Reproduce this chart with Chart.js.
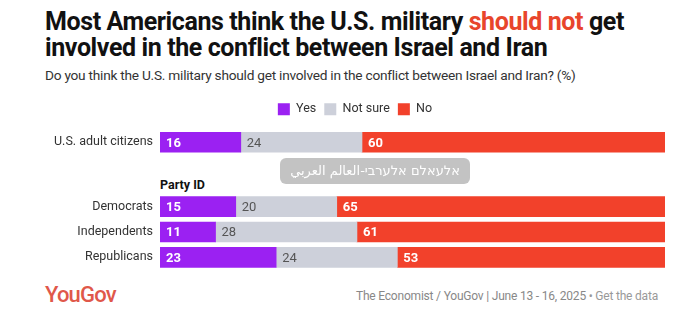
<!DOCTYPE html>
<html>
<head>
<meta charset="utf-8">
<script src="https://cdn.jsdelivr.net/npm/chart.js@4"></script>
<style>
  body { margin: 0; width: 700px; height: 321px; background: #fff; position: relative; overflow: hidden; font-family: Roboto, "Noto Sans", sans-serif; color: #222; }
  .abs { position: absolute; white-space: nowrap; }
  #title { left: 45px; top: 9px; font-size: 25px; font-weight: 700; line-height: 26px; color: #111; letter-spacing: -0.4px; }
  #title span { color: #e8452c; }
  #subtitle { left: 45px; top: 67px; font-size: 13.7px; color: #333; letter-spacing: -0.25px; }
  #party { left: 160px; top: 177px; font-size: 12.5px; font-weight: 700; color: #111; }
  #mark { left: 280px; top: 158px; width: 190px; height: 26px; border-radius: 6px; background: rgba(175,175,175,0.75); color: #fff; font-family: "DejaVu Sans", sans-serif; font-size: 13px; line-height: 26px; text-align: center; }
  #logo { left: 45px; top: 282px; font-size: 22px; font-weight: 500; color: #e0584a; letter-spacing: -0.8px; }
  #source { right: 42px; top: 289px; font-size: 12px; color: #888; letter-spacing: -0.2px; }
  #source span { color: #999; }
  canvas { position: absolute; left: 0; }
  #chart1 { top: 95px; }
  #chart2 { top: 194px; }
</style>
</head>
<body>
<div class="abs" id="title">Most Americans think the U.S. military <span>should not</span> get<br>involved in the conflict between Israel and Iran</div>
<div class="abs" id="subtitle">Do you think the U.S. military should get involved in the conflict between Israel and Iran? (%)</div>
<canvas id="chart1" width="700" height="64"></canvas>
<div class="abs" id="party">Party ID</div>
<canvas id="chart2" width="700" height="76"></canvas>
<div class="abs" id="mark" dir="rtl">אלעאלם אלערבי-العالم العربي</div>
<div class="abs" id="logo">YouGov</div>
<div class="abs" id="source">The Economist / YouGov | June 13 - 16, 2025 <span>• Get the data</span></div>
<script>
const seriesNames = ['Yes', 'Not sure', 'No'];
const seriesColors = ['#9b21f2', '#cdd0da', '#f2412b'];
const labelColors = ['#ffffff', '#555555', '#ffffff'];

const totalLabels = ['U.S. adult citizens'];
const totalYes = [16];
const totalNotSure = [24];
const totalNo = [60];

const partyLabels = ['Democrats', 'Independents', 'Republicans'];
const partyYes = [15, 11, 23];
const partyNotSure = [20, 28, 24];
const partyNo = [65, 61, 53];

// numbers inside each segment, at its left edge
const barLabels = {
  id: 'barLabels',
  afterDatasetsDraw(chart) {
    const ctx = chart.ctx;
    ctx.save();
    ctx.textBaseline = 'middle';
    ctx.textAlign = 'left';
    chart.data.datasets.forEach((ds, i) => {
      const meta = chart.getDatasetMeta(i);
      ctx.fillStyle = labelColors[i];
      ctx.font = (i === 1 ? '400 ' : '700 ') + '13px Roboto, sans-serif';
      meta.data.forEach((bar, j) => {
        const left = Math.min(bar.x, bar.base);
        ctx.fillText(ds.data[j], left + 6, bar.y + 1);
      });
    });
    ctx.restore();
  }
};

function makeChart(id, labels, yes, notSure, no, showLegend) {
  const values = [yes, notSure, no];
  return new Chart(document.getElementById(id), {
    type: 'bar',
    data: {
      labels: labels,
      datasets: seriesNames.map((name, i) => ({
        label: name,
        data: values[i],
        backgroundColor: seriesColors[i],
        borderWidth: 0,
        barThickness: 20
      }))
    },
    options: {
      indexAxis: 'y',
      responsive: false,
      animation: false,
      layout: { padding: { left: 45, right: 35, top: 0, bottom: 0 } },
      plugins: {
        tooltip: { enabled: false },
        legend: {
          display: showLegend,
          position: 'top',
          align: 'center',
          labels: {
            boxWidth: 12,
            boxHeight: 12,
            padding: 8,
            color: '#333',
            font: { family: 'Roboto', size: 12.5 }
          }
        }
      },
      scales: {
        x: { stacked: true, min: 0, max: 100, display: false },
        y: {
          stacked: true,
          grid: { display: false, drawTicks: false },
          border: { display: false },
          afterFit: s => {
            s.width = 115;
            s.paddingTop = 0;
            s.paddingBottom = 0;
          },
          ticks: {
            padding: 7,
            color: '#333',
            font: { family: 'Roboto', size: 12.5 }
          }
        }
      }
    },
    plugins: [barLabels]
  });
}

makeChart('chart1', totalLabels, totalYes, totalNotSure, totalNo, true);
makeChart('chart2', partyLabels, partyYes, partyNotSure, partyNo, false);
</script>
</body>
</html>
